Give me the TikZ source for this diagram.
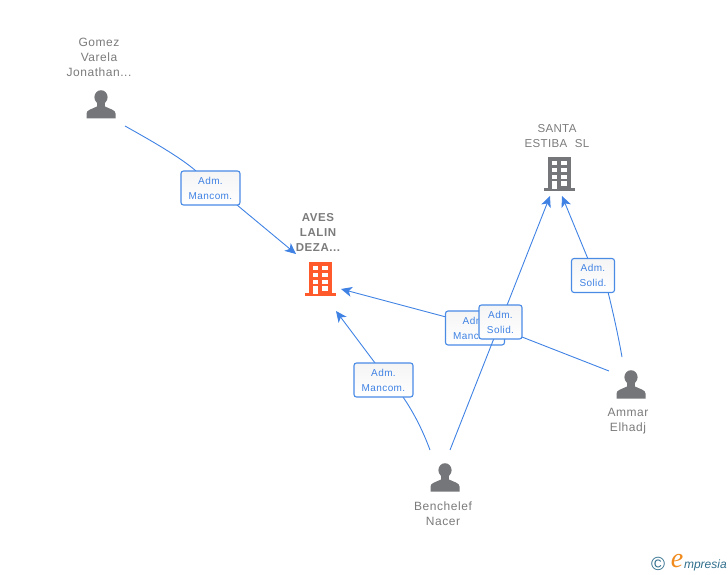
\documentclass[tikz,border=0pt]{standalone}
\usepackage{fontspec}
\setmainfont{Liberation Sans}
\newfontfamily\logoserif{Liberation Serif}
\usetikzlibrary{arrows.meta,calc}
\definecolor{linkblue}{HTML}{3F82E4}
\definecolor{boxblue}{HTML}{4A8BE6}
\definecolor{textgrey}{HTML}{7B7B7B}
\definecolor{icongrey}{HTML}{75767A}
\definecolor{orangeicon}{HTML}{FF5A2C}
\definecolor{logoteal}{HTML}{2F6E8C}
\definecolor{logoorange}{HTML}{F08A1D}
\newcommand{\admline}{Adm.\hspace{5pt}}
\newcommand{\solidline}{Solid.\hspace{3pt}}
\tikzset{
  x=1pt,y=-1pt,
  every node/.style={inner sep=0pt,outer sep=0pt},
  name label/.style={font=\fontsize{12}{15}\selectfont\addfontfeature{LetterSpace=4.5},text=textgrey,align=center,text width=90pt},
  company label/.style={font=\fontsize{11.5}{15}\selectfont\bfseries\addfontfeature{LetterSpace=5},text=textgrey,align=center,text width=90pt},
  plain company label/.style={font=\fontsize{11.5}{15}\selectfont\addfontfeature{LetterSpace=3},text=textgrey,align=center,text width=90pt},
  role/.style={draw=boxblue,line width=1.1pt,rounded corners=2.5pt,top color=black!4,bottom color=white,text=linkblue,
    font=\fontsize{10}{15}\selectfont\addfontfeature{LetterSpace=4},align=center,minimum height=34pt},
  link/.style={draw=linkblue,line width=0.9pt},
  arrowlink/.style={link,-{Stealth[length=11pt,width=10pt,inset=3pt]}},
  person/.pic={
    \fill[icongrey] (0,-7.8) ellipse (6.6 and 7);
    \fill[icongrey] (-4,-4) rectangle (4,3);
    \fill[icongrey] (-14.5,13.5) -- (-14.5,8.5) .. controls (-14.5,5) and (-9,4) .. (-4,1.5)
       -- (4,1.5) .. controls (9,4) and (14.5,5) .. (14.5,8.5) -- (14.5,13.5) -- cycle;
  },
  building/.pic={
    \fill[#1] (-11.5,-17) rectangle (11.5,14);
    \fill[#1] (-15.5,14) rectangle (15.5,17);
    \foreach \yy in {-13.5,-6.5,0.5}{
      \fill[white] (-7.5,\yy) rectangle (-2,{\yy+4.5});
      \fill[white] (2,\yy) rectangle (7.5,{\yy+4.5});
    }
    \fill[white] (-7.5,7) rectangle (-2,15);
    \fill[white] (2,7) rectangle (7.5,11.5);
  }
}
\begin{document}
\begin{tikzpicture}
\useasboundingbox (0,0) rectangle (728,575);

% labels
\node[name label] (gomezlabel) at (99,57) {Gomez\\Varela\\Jonathan...};
\node[company label] (aveslabel) at (318,232) {AVES\\LALIN\\DEZA...};
\node[plain company label] (santalabel) at (557,136) {SANTA\\ESTIBA\ \ SL};
\node[name label] (ammarlabel) at (628,421) {Ammar\\Elhadj};
\node[name label] (benchelabel) at (443,514) {Benchelef\\Nacer};

% icon anchors
\node[minimum width=30pt,minimum height=30pt] (gomez) at (101,105) {};
\node[minimum width=32pt,minimum height=34pt] (aves) at (320,279) {};
\node[minimum width=32pt,minimum height=34pt] (santa) at (559,174) {};
\node[minimum width=30pt,minimum height=30pt] (ammar) at (631,385) {};
\node[minimum width=30pt,minimum height=30pt] (benchelef) at (445,478) {};

\pic at (gomez.center) {person};
\pic at (ammar.center) {person};
\pic at (benchelef.center) {person};
\pic at (aves.center) {building=orangeicon};
\pic at (santa.center) {building=icongrey};

% free ends of the connectors
\coordinate (gomezout) at (125,126);
\coordinate (avesinA) at (296,254);
\coordinate (avesinB) at (336,311);
\coordinate (avesinC) at (341,289);
\coordinate (benchoutA) at (430,450);
\coordinate (benchoutB) at (450,450);
\coordinate (ammaroutA) at (609,371);
\coordinate (ammaroutB) at (622,357);
\coordinate (santainA) at (550,196);
\coordinate (santainB) at (562,196);

% connectors behind the boxes
\coordinate (r1top) at (196,171);
\coordinate (r1bot) at (237,205);
\coordinate (r2bot) at (403,397);
\coordinate (r2top) at (375,363);
\coordinate (r3right) at (522,337);
\coordinate (r3left) at (446,317);
\coordinate (r5bot) at (608,292);
\coordinate (r5top) at (588,259);

\draw[link] (gomezout) .. controls (150,140) and (180,157) .. (r1top);
\draw[arrowlink] (r1bot) -- (avesinA);
\draw[link] (benchoutA) .. controls (423,431) and (414,413) .. (r2bot);
\draw[arrowlink] (r2top) -- (avesinB);
\draw[link] (ammaroutA) -- (r3right);
\draw[arrowlink] (r3left) -- (avesinC);
\draw[link] (ammaroutB) .. controls (619,340) and (614,316) .. (r5bot);
\draw[arrowlink] (r5top) -- (santainB);

% role boxes
\node[role,minimum width=59pt] (r1) at (210.5,188) {\admline\\Mancom.};
\node[role,minimum width=59pt] (r2) at (383.5,380) {\admline\\Mancom.};
\node[role,minimum width=59pt] (r3) at (475,328) {\admline\\Mancom.};
\node[role,minimum width=43pt] (r5) at (593,275.5) {\admline\\\solidline};

\draw[arrowlink] (benchoutB) -- (santainA);
\node[role,minimum width=43pt] (r4) at (500.5,322) {\admline\\\solidline};

% logo
\node[font=\fontsize{19}{19}\selectfont,text=logoteal] (copyr) at (658,564) {©};
\node[font=\logoserif\fontsize{28}{28}\selectfont\itshape,text=logoorange] (logoe) at (677,561) {e};
\node[font=\fontsize{12}{14}\selectfont\itshape,text=logoteal,anchor=west] (logotext) at (684,565) {mpresia};
\end{tikzpicture}
\end{document}
